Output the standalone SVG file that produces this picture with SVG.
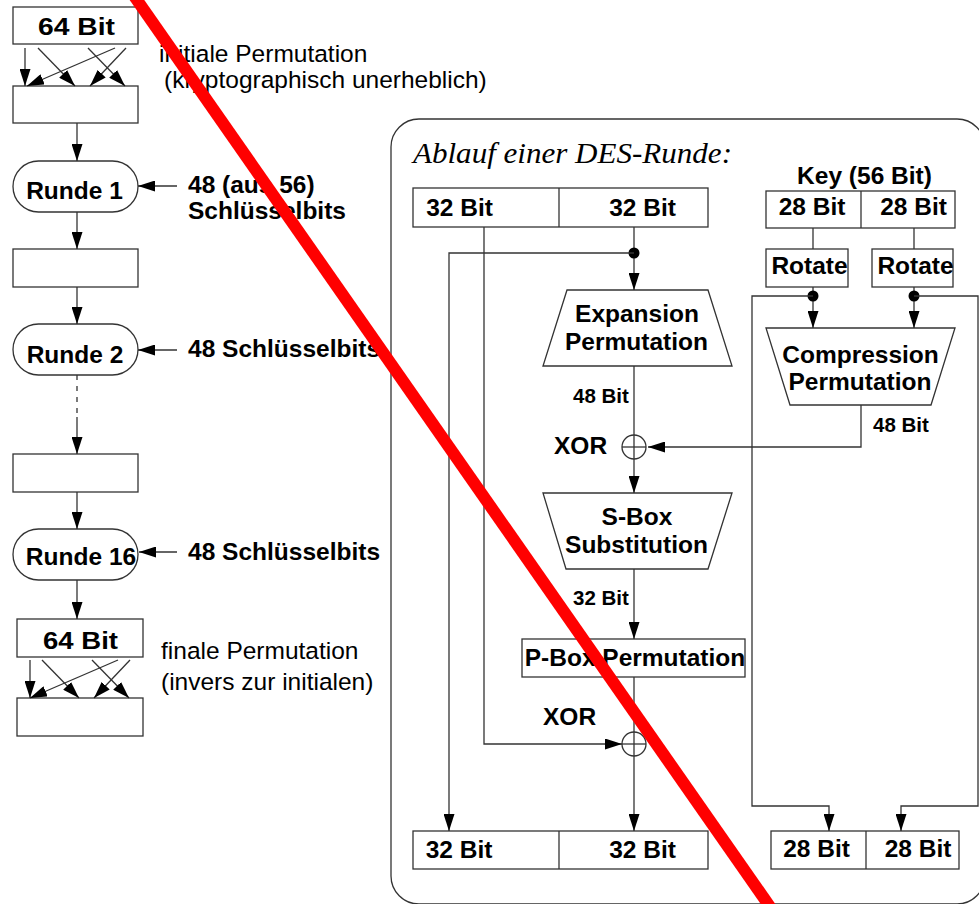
<svg xmlns="http://www.w3.org/2000/svg" width="979" height="904" viewBox="0 0 979 904">
<style>
.box{fill:#fff;stroke:#333;stroke-width:1.3}
.ln{fill:none;stroke:#333;stroke-width:1.3}
.arr{fill:none;stroke:#333;stroke-width:1.3;marker-end:url(#ah)}
.b{font-family:"Liberation Sans",Arial,sans-serif;font-weight:bold;font-size:24.5px;fill:#000}
.bc{font-family:"Liberation Sans",Arial,sans-serif;font-weight:bold;font-size:24.5px;fill:#000;text-anchor:middle}
.s{font-family:"Liberation Sans",Arial,sans-serif;font-weight:bold;font-size:20.5px;fill:#000}
.r{font-family:"Liberation Sans",Arial,sans-serif;font-size:24.5px;fill:#000}
.t{font-family:"Liberation Serif","Times New Roman",serif;font-style:italic;font-size:29px;fill:#000}
.dot{fill:#000}
</style>
<defs>
<marker id="ah" markerUnits="userSpaceOnUse" viewBox="0 0 17 11" refX="17" refY="5.5" markerWidth="17" markerHeight="11" orient="auto">
<path d="M0,0 L17,5.5 L0,11 z" fill="#000"/>
</marker>
</defs>

<!-- Left column -->
<g id="in64"><rect class="box" x="13" y="7" width="125" height="37"/><text class="bc" x="76.5" y="35" font-size="27" textLength="77" lengthAdjust="spacingAndGlyphs">64 Bit</text></g>
<g id="ip"><rect class="box" x="13" y="86" width="125" height="37"/></g>
<g id="ip-label"><text class="r" x="159" y="62">initiale Permutation</text><text class="r" x="164" y="88">(kryptographisch unerheblich)</text></g>
<g id="r1"><rect class="box" x="13" y="161" width="125" height="51" rx="25.5"/><text class="bc" x="74.5" y="199">Runde 1</text></g>
<g id="k1"><text class="b" x="188" y="193">48 (aus 56)</text><text class="b" x="188" y="219">Schlüsselbits</text></g>
<g id="b3"><rect class="box" x="13" y="249" width="125" height="38"/></g>
<g id="r2"><rect class="box" x="13" y="324" width="125" height="51" rx="25.5"/><text class="bc" x="75" y="363">Runde 2</text></g>
<g id="k2"><text class="b" x="188" y="357">48 Schlüsselbits</text></g>
<g id="b4"><rect class="box" x="13" y="454" width="125" height="38"/></g>
<g id="r16"><rect class="box" x="13" y="529" width="125" height="51" rx="25.5"/><text class="bc" x="81" y="565">Runde 16</text></g>
<g id="k16"><text class="b" x="188" y="560">48 Schlüsselbits</text></g>
<g id="out64"><rect class="box" x="17" y="619" width="126" height="38"/><text class="bc" x="80.5" y="649" font-size="27" textLength="75" lengthAdjust="spacingAndGlyphs">64 Bit</text></g>
<g id="fp"><rect class="box" x="17" y="698" width="126" height="38"/></g>
<g id="fp-label"><text class="r" x="161" y="659">finale Permutation</text><text class="r" x="161" y="690">(invers zur initialen)</text></g>

<!-- Right panel -->
<g id="panel"><rect x="391" y="119" width="594" height="785" rx="28" fill="none" stroke="#333" stroke-width="1.3"/><text class="t" x="413" y="163" textLength="319" lengthAdjust="spacingAndGlyphs">Ablauf einer DES-Runde:</text></g>
<g id="lr-in"><rect class="box" x="413" y="188" width="295" height="39"/><line class="ln" x1="559" y1="188" x2="559" y2="227"/><text class="bc" x="459.5" y="216">32 Bit</text><text class="bc" x="642.5" y="216">32 Bit</text></g>
<g id="exp"><path class="box" d="M567,290 L708,290 L732,366 L543,366 Z"/><text class="bc" x="637" y="322">Expansion</text><text class="bc" x="636.5" y="350">Permutation</text></g>
<g id="xor1"><circle class="box" cx="634" cy="447" r="12"/><line class="ln" x1="622" y1="447" x2="646" y2="447"/><line class="ln" x1="634" y1="435" x2="634" y2="459"/><text class="b" x="554" y="454">XOR</text></g>
<g id="sbox"><path class="box" d="M543,493 L732,493 L708,569 L566,569 Z"/><text class="bc" x="637" y="525">S-Box</text><text class="bc" x="636.5" y="553">Substitution</text></g>
<g id="pbox"><rect class="box" x="522" y="639" width="223" height="38"/><text class="bc" x="635" y="666">P-Box Permutation</text></g>
<g id="xor2"><circle class="box" cx="634" cy="744" r="12"/><line class="ln" x1="622" y1="744" x2="646" y2="744"/><line class="ln" x1="634" y1="732" x2="634" y2="756"/><text class="b" x="543" y="725">XOR</text></g>
<g id="lr-out"><rect class="box" x="413" y="831" width="295" height="38"/><line class="ln" x1="559" y1="831" x2="559" y2="869"/><text class="bc" x="459" y="858">32 Bit</text><text class="bc" x="642.5" y="858">32 Bit</text></g>
<g id="key"><text class="bc" x="864.5" y="184">Key (56 Bit)</text><rect class="box" x="766" y="191" width="189" height="37"/><line class="ln" x1="861" y1="191" x2="861" y2="228"/><text class="bc" x="812" y="215">28 Bit</text><text class="bc" x="913.5" y="215">28 Bit</text></g>
<g id="rotL"><rect class="box" x="766" y="249" width="82" height="38"/><text class="bc" x="809.5" y="274">Rotate</text></g>
<g id="rotR"><rect class="box" x="872" y="249" width="81" height="38"/><text class="bc" x="915.5" y="274">Rotate</text></g>
<g id="comp"><path class="box" d="M766,328 L955,328 L931,405 L790,405 Z"/><text class="bc" x="860.5" y="363">Compression</text><text class="bc" x="860" y="390">Permutation</text></g>
<g id="key-out"><rect class="box" x="771" y="831" width="188" height="38"/><line class="ln" x1="866" y1="831" x2="866" y2="869"/><text class="bc" x="816.5" y="857">28 Bit</text><text class="bc" x="918" y="857">28 Bit</text></g>

<!-- Connectors -->
<g id="connectors">
<line class="arr" x1="25" y1="48" x2="25" y2="86"/>
<line class="arr" x1="38" y1="48" x2="75" y2="86"/>
<line class="arr" x1="115" y1="48" x2="27" y2="86"/>
<line class="arr" x1="88" y1="48" x2="125" y2="86"/>
<line class="arr" x1="126" y1="48" x2="90" y2="86"/>
<line class="arr" x1="77" y1="123" x2="77" y2="161"/>
<line class="arr" x1="77" y1="212" x2="77" y2="249"/>
<line class="arr" x1="77" y1="287" x2="77" y2="324"/>
<line class="ln" x1="77" y1="375" x2="77" y2="417" stroke-dasharray="5 6"/>
<line class="arr" x1="77" y1="417" x2="77" y2="454"/>
<line class="arr" x1="77" y1="492" x2="77" y2="529"/>
<line class="arr" x1="77" y1="580" x2="77" y2="619"/>
<line class="arr" x1="177" y1="186" x2="138" y2="186"/>
<line class="arr" x1="177" y1="350" x2="138" y2="350"/>
<line class="arr" x1="177" y1="552" x2="139" y2="552"/>
<line class="arr" x1="30" y1="660" x2="30" y2="698"/>
<line class="arr" x1="42" y1="660" x2="79" y2="698"/>
<line class="arr" x1="118" y1="660" x2="30" y2="698"/>
<line class="arr" x1="92" y1="660" x2="129" y2="698"/>
<line class="arr" x1="130" y1="660" x2="94" y2="698"/>

<line class="arr" x1="634" y1="227" x2="634" y2="290"/>
<circle class="dot" cx="634" cy="253" r="5.5"/>
<polyline class="arr" points="634,253 449,253 449,831"/>
<polyline class="arr" points="484,227 484,744 622,744"/>
<line class="ln" x1="634" y1="366" x2="634" y2="435"/>
<text class="s" x="573" y="403">48 Bit</text>
<line class="arr" x1="634" y1="459" x2="634" y2="493"/>
<polyline class="arr" points="861,405 861,447 648,447"/>
<text class="s" x="873" y="432">48 Bit</text>
<line class="arr" x1="634" y1="569" x2="634" y2="639"/>
<text class="s" x="573" y="605">32 Bit</text>
<line class="ln" x1="634" y1="677" x2="634" y2="732"/>
<line class="arr" x1="634" y1="756" x2="634" y2="831"/>
<line class="ln" x1="813" y1="228" x2="813" y2="249"/>
<line class="ln" x1="914" y1="228" x2="914" y2="249"/>
<line class="arr" x1="813" y1="287" x2="813" y2="328"/>
<line class="arr" x1="914" y1="287" x2="914" y2="328"/>
<circle class="dot" cx="813" cy="296" r="5.5"/>
<circle class="dot" cx="914" cy="296" r="5.5"/>
<polyline class="arr" points="813,296 752,296 752,806 829,806 829,831"/>
<polyline class="arr" points="914,296 978,296 978,806 901,806 901,831"/>
</g>

<!-- Red strike-through -->
<line x1="123" y1="-20" x2="782" y2="924" stroke="#ff0000" stroke-width="12"/>
</svg>
